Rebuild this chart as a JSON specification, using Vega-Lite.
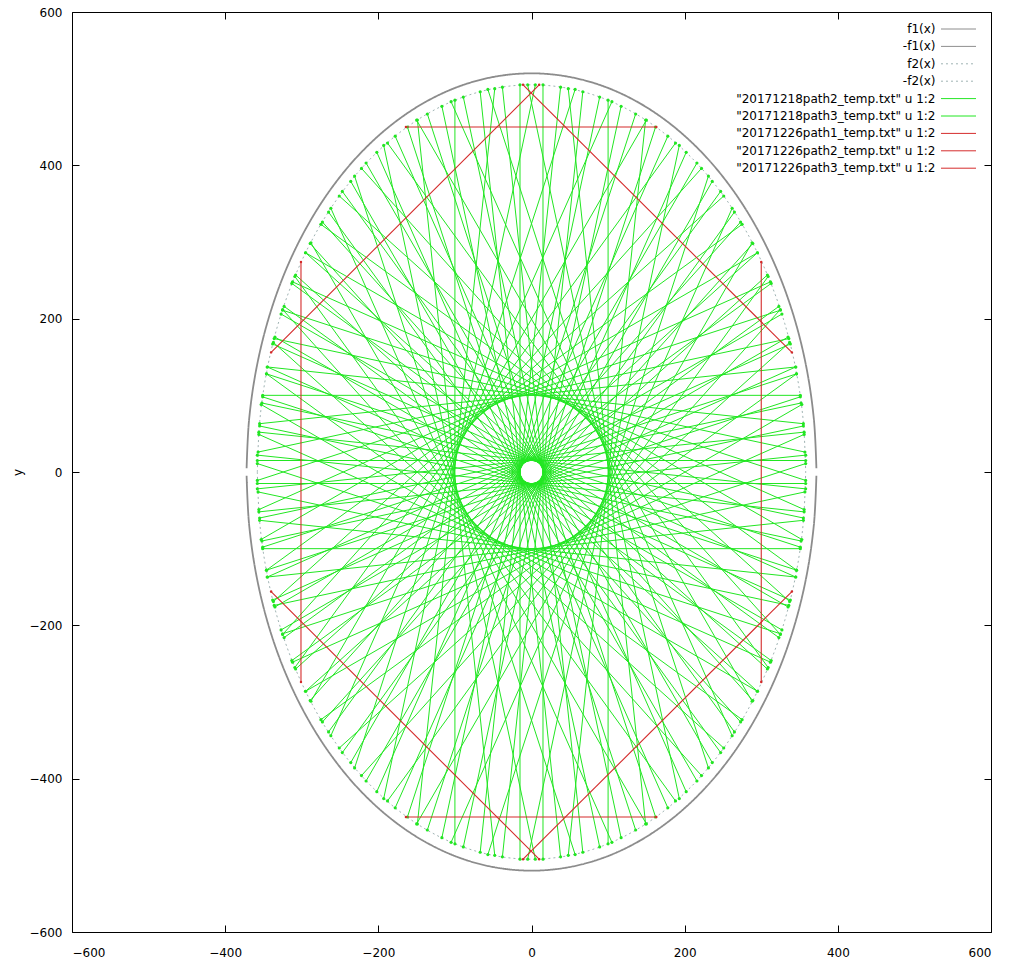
{
  "$schema": "https://vega.github.io/schema/vega-lite/v6.json",
  "width": 919,
  "height": 920,
  "autosize": {"type": "none"},
  "padding": {"left": 72, "top": 12, "right": 22, "bottom": 27},
  "background": "white",
  "config": {
    "view": {"stroke": "black", "strokeWidth": 1},
    "font": "DejaVu Sans",
    "axis": {"grid": false, "domain": false, "tickColor": "black", "tickSize": -7, "tickWidth": 1, "labelFont": "DejaVu Sans", "labelFontSize": 12, "labelColor": "black", "titleFont": "DejaVu Sans", "titleFontSize": 12, "titleFontWeight": "normal", "titleColor": "black", "labelPadding": 17},
    "legend": {"orient": "none", "legendX": 868, "legendY": 10, "symbolType": "M-2.86,0H2.86", "symbolSize": 150, "symbolStrokeWidth": 1, "symbolOffset": 11.5, "labelAlign": "right", "labelOffset": -30, "labelFont": "DejaVu Sans", "labelFontSize": 12, "labelColor": "black", "labelLimit": 0, "rowPadding": 4.4}
  },
  "datasets": {
    "names": [
      {"s": "f1", "label": "f1(x)"},
      {"s": "nf1", "label": "-f1(x)"},
      {"s": "f2", "label": "f2(x)"},
      {"s": "nf2", "label": "-f2(x)"},
      {"s": "p2", "label": "\"20171218path2_temp.txt\" u 1:2"},
      {"s": "p3", "label": "\"20171218path3_temp.txt\" u 1:2"},
      {"s": "r1", "label": "\"20171226path1_temp.txt\" u 1:2"},
      {"s": "r2", "label": "\"20171226path2_temp.txt\" u 1:2"},
      {"s": "r3", "label": "\"20171226path3_temp.txt\" u 1:2"}
    ],
    "pts": [
      {"s":"f1","g":201,"o":0,"x":-372,"y":5},{"s":"f1","g":201,"o":1,"x":-368.8,"y":67.9},{"s":"f1","g":201,"o":2,"x":-359.3,"y":134.6},{"s":"f1","g":201,"o":3,"x":-343.7,"y":199},{"s":"f1","g":201,"o":4,"x":-322.2,"y":260},{"s":"f1","g":201,"o":5,"x":-295.1,"y":316.6},{"s":"f1","g":201,"o":6,"x":-263,"y":367.7},{"s":"f1","g":201,"o":7,"x":-226.5,"y":412.5},{"s":"f1","g":201,"o":8,"x":-186,"y":450.3},{"s":"f1","g":201,"o":9,"x":-142.4,"y":480.4},{"s":"f1","g":201,"o":10,"x":-96.3,"y":502.3},{"s":"f1","g":201,"o":11,"x":-48.6,"y":515.5},{"s":"f1","g":201,"o":12,"x":0,"y":520},{"s":"f1","g":201,"o":13,"x":48.6,"y":515.5},{"s":"f1","g":201,"o":14,"x":96.3,"y":502.3},{"s":"f1","g":201,"o":15,"x":142.4,"y":480.4},{"s":"f1","g":201,"o":16,"x":186,"y":450.3},{"s":"f1","g":201,"o":17,"x":226.5,"y":412.5},{"s":"f1","g":201,"o":18,"x":263,"y":367.7},{"s":"f1","g":201,"o":19,"x":295.1,"y":316.6},{"s":"f1","g":201,"o":20,"x":322.2,"y":260},{"s":"f1","g":201,"o":21,"x":343.7,"y":199},{"s":"f1","g":201,"o":22,"x":359.3,"y":134.6},{"s":"f1","g":201,"o":23,"x":368.8,"y":67.9},{"s":"f1","g":201,"o":24,"x":372,"y":5},
      {"s":"nf1","g":202,"o":0,"x":-372,"y":-5},{"s":"nf1","g":202,"o":1,"x":-368.8,"y":-67.9},{"s":"nf1","g":202,"o":2,"x":-359.3,"y":-134.6},{"s":"nf1","g":202,"o":3,"x":-343.7,"y":-199},{"s":"nf1","g":202,"o":4,"x":-322.2,"y":-260},{"s":"nf1","g":202,"o":5,"x":-295.1,"y":-316.6},{"s":"nf1","g":202,"o":6,"x":-263,"y":-367.7},{"s":"nf1","g":202,"o":7,"x":-226.5,"y":-412.5},{"s":"nf1","g":202,"o":8,"x":-186,"y":-450.3},{"s":"nf1","g":202,"o":9,"x":-142.4,"y":-480.4},{"s":"nf1","g":202,"o":10,"x":-96.3,"y":-502.3},{"s":"nf1","g":202,"o":11,"x":-48.6,"y":-515.5},{"s":"nf1","g":202,"o":12,"x":0,"y":-520},{"s":"nf1","g":202,"o":13,"x":48.6,"y":-515.5},{"s":"nf1","g":202,"o":14,"x":96.3,"y":-502.3},{"s":"nf1","g":202,"o":15,"x":142.4,"y":-480.4},{"s":"nf1","g":202,"o":16,"x":186,"y":-450.3},{"s":"nf1","g":202,"o":17,"x":226.5,"y":-412.5},{"s":"nf1","g":202,"o":18,"x":263,"y":-367.7},{"s":"nf1","g":202,"o":19,"x":295.1,"y":-316.6},{"s":"nf1","g":202,"o":20,"x":322.2,"y":-260},{"s":"nf1","g":202,"o":21,"x":343.7,"y":-199},{"s":"nf1","g":202,"o":22,"x":359.3,"y":-134.6},{"s":"nf1","g":202,"o":23,"x":368.8,"y":-67.9},{"s":"nf1","g":202,"o":24,"x":372,"y":-5},
      {"s":"f2","g":203,"o":0,"x":-358,"y":0},{"s":"f2","g":203,"o":1,"x":-354.9,"y":65.9},{"s":"f2","g":203,"o":2,"x":-345.8,"y":130.7},{"s":"f2","g":203,"o":3,"x":-330.8,"y":193.3},{"s":"f2","g":203,"o":4,"x":-310,"y":252.5},{"s":"f2","g":203,"o":5,"x":-284,"y":307.4},{"s":"f2","g":203,"o":6,"x":-253.1,"y":357.1},{"s":"f2","g":203,"o":7,"x":-217.9,"y":400.6},{"s":"f2","g":203,"o":8,"x":-179,"y":437.3},{"s":"f2","g":203,"o":9,"x":-137,"y":466.6},{"s":"f2","g":203,"o":10,"x":-92.7,"y":487.8},{"s":"f2","g":203,"o":11,"x":-46.7,"y":500.7},{"s":"f2","g":203,"o":12,"x":0,"y":505},{"s":"f2","g":203,"o":13,"x":46.7,"y":500.7},{"s":"f2","g":203,"o":14,"x":92.7,"y":487.8},{"s":"f2","g":203,"o":15,"x":137,"y":466.6},{"s":"f2","g":203,"o":16,"x":179,"y":437.3},{"s":"f2","g":203,"o":17,"x":217.9,"y":400.6},{"s":"f2","g":203,"o":18,"x":253.1,"y":357.1},{"s":"f2","g":203,"o":19,"x":284,"y":307.4},{"s":"f2","g":203,"o":20,"x":310,"y":252.5},{"s":"f2","g":203,"o":21,"x":330.8,"y":193.3},{"s":"f2","g":203,"o":22,"x":345.8,"y":130.7},{"s":"f2","g":203,"o":23,"x":354.9,"y":65.9},{"s":"f2","g":203,"o":24,"x":358,"y":0},
      {"s":"nf2","g":204,"o":0,"x":-358,"y":0},{"s":"nf2","g":204,"o":1,"x":-354.9,"y":-65.9},{"s":"nf2","g":204,"o":2,"x":-345.8,"y":-130.7},{"s":"nf2","g":204,"o":3,"x":-330.8,"y":-193.3},{"s":"nf2","g":204,"o":4,"x":-310,"y":-252.5},{"s":"nf2","g":204,"o":5,"x":-284,"y":-307.4},{"s":"nf2","g":204,"o":6,"x":-253.1,"y":-357.1},{"s":"nf2","g":204,"o":7,"x":-217.9,"y":-400.6},{"s":"nf2","g":204,"o":8,"x":-179,"y":-437.3},{"s":"nf2","g":204,"o":9,"x":-137,"y":-466.6},{"s":"nf2","g":204,"o":10,"x":-92.7,"y":-487.8},{"s":"nf2","g":204,"o":11,"x":-46.7,"y":-500.7},{"s":"nf2","g":204,"o":12,"x":0,"y":-505},{"s":"nf2","g":204,"o":13,"x":46.7,"y":-500.7},{"s":"nf2","g":204,"o":14,"x":92.7,"y":-487.8},{"s":"nf2","g":204,"o":15,"x":137,"y":-466.6},{"s":"nf2","g":204,"o":16,"x":179,"y":-437.3},{"s":"nf2","g":204,"o":17,"x":217.9,"y":-400.6},{"s":"nf2","g":204,"o":18,"x":253.1,"y":-357.1},{"s":"nf2","g":204,"o":19,"x":284,"y":-307.4},{"s":"nf2","g":204,"o":20,"x":310,"y":-252.5},{"s":"nf2","g":204,"o":21,"x":330.8,"y":-193.3},{"s":"nf2","g":204,"o":22,"x":345.8,"y":-130.7},{"s":"nf2","g":204,"o":23,"x":354.9,"y":-65.9},{"s":"nf2","g":204,"o":24,"x":358,"y":0},

      {"s":"p2","g":1,"o":0,"x":100,"y":485},{"s":"p2","g":1,"o":1,"x":100,"y":-485},
      {"s":"p2","g":2,"o":0,"x":-100,"y":485},{"s":"p2","g":2,"o":1,"x":-100,"y":-485},
      {"s":"p2","g":3,"o":0,"x":351,"y":100},{"s":"p2","g":3,"o":1,"x":-351,"y":100},
      {"s":"p2","g":4,"o":0,"x":351,"y":-100},{"s":"p2","g":4,"o":1,"x":-351,"y":-100},
      {"s":"p2","g":5,"o":0,"x":48,"y":500},{"s":"p2","g":5,"o":1,"x":149,"y":-459},
      {"s":"p2","g":6,"o":0,"x":48,"y":-500},{"s":"p2","g":6,"o":1,"x":149,"y":459},
      {"s":"p2","g":7,"o":0,"x":-48,"y":500},{"s":"p2","g":7,"o":1,"x":-149,"y":-459},
      {"s":"p2","g":8,"o":0,"x":-48,"y":-500},{"s":"p2","g":8,"o":1,"x":-149,"y":459},
      {"s":"p2","g":9,"o":0,"x":-5,"y":505},{"s":"p2","g":9,"o":1,"x":193,"y":-426},
      {"s":"p2","g":10,"o":0,"x":-5,"y":-505},{"s":"p2","g":10,"o":1,"x":193,"y":426},
      {"s":"p2","g":11,"o":0,"x":5,"y":505},{"s":"p2","g":11,"o":1,"x":-193,"y":-426},
      {"s":"p2","g":12,"o":0,"x":5,"y":-505},{"s":"p2","g":12,"o":1,"x":-193,"y":426},
      {"s":"p2","g":13,"o":0,"x":-57,"y":499},{"s":"p2","g":13,"o":1,"x":231,"y":-386},
      {"s":"p2","g":14,"o":0,"x":-57,"y":-499},{"s":"p2","g":14,"o":1,"x":231,"y":386},
      {"s":"p2","g":15,"o":0,"x":57,"y":499},{"s":"p2","g":15,"o":1,"x":-231,"y":-386},
      {"s":"p2","g":16,"o":0,"x":57,"y":-499},{"s":"p2","g":16,"o":1,"x":-231,"y":386},
      {"s":"p2","g":17,"o":0,"x":-105,"y":483},{"s":"p2","g":17,"o":1,"x":262,"y":-344},
      {"s":"p2","g":18,"o":0,"x":-105,"y":-483},{"s":"p2","g":18,"o":1,"x":262,"y":344},
      {"s":"p2","g":19,"o":0,"x":105,"y":483},{"s":"p2","g":19,"o":1,"x":-262,"y":-344},
      {"s":"p2","g":20,"o":0,"x":105,"y":-483},{"s":"p2","g":20,"o":1,"x":-262,"y":344},
      {"s":"p2","g":21,"o":0,"x":-150,"y":459},{"s":"p2","g":21,"o":1,"x":288,"y":-299},
      {"s":"p2","g":22,"o":0,"x":-150,"y":-459},{"s":"p2","g":22,"o":1,"x":288,"y":299},
      {"s":"p2","g":23,"o":0,"x":150,"y":459},{"s":"p2","g":23,"o":1,"x":-288,"y":-299},
      {"s":"p2","g":24,"o":0,"x":150,"y":-459},{"s":"p2","g":24,"o":1,"x":-288,"y":299},
      {"s":"p2","g":25,"o":0,"x":-188,"y":429},{"s":"p2","g":25,"o":1,"x":309,"y":-255},
      {"s":"p2","g":26,"o":0,"x":-188,"y":-429},{"s":"p2","g":26,"o":1,"x":309,"y":255},
      {"s":"p2","g":27,"o":0,"x":188,"y":429},{"s":"p2","g":27,"o":1,"x":-309,"y":-255},
      {"s":"p2","g":28,"o":0,"x":188,"y":-429},{"s":"p2","g":28,"o":1,"x":-309,"y":255},
      {"s":"p2","g":29,"o":0,"x":-222,"y":396},{"s":"p2","g":29,"o":1,"x":325,"y":-212},
      {"s":"p2","g":30,"o":0,"x":-222,"y":-396},{"s":"p2","g":30,"o":1,"x":325,"y":212},
      {"s":"p2","g":31,"o":0,"x":222,"y":396},{"s":"p2","g":31,"o":1,"x":-325,"y":-212},
      {"s":"p2","g":32,"o":0,"x":222,"y":-396},{"s":"p2","g":32,"o":1,"x":-325,"y":212},
      {"s":"p2","g":33,"o":0,"x":-251,"y":360},{"s":"p2","g":33,"o":1,"x":337,"y":-169},
      {"s":"p2","g":34,"o":0,"x":-251,"y":-360},{"s":"p2","g":34,"o":1,"x":337,"y":169},
      {"s":"p2","g":35,"o":0,"x":251,"y":360},{"s":"p2","g":35,"o":1,"x":-337,"y":-169},
      {"s":"p2","g":36,"o":0,"x":251,"y":-360},{"s":"p2","g":36,"o":1,"x":-337,"y":169},
      {"s":"p2","g":37,"o":0,"x":-275,"y":323},{"s":"p2","g":37,"o":1,"x":346,"y":-128},
      {"s":"p2","g":38,"o":0,"x":-275,"y":-323},{"s":"p2","g":38,"o":1,"x":346,"y":128},
      {"s":"p2","g":39,"o":0,"x":275,"y":323},{"s":"p2","g":39,"o":1,"x":-346,"y":-128},
      {"s":"p2","g":40,"o":0,"x":275,"y":-323},{"s":"p2","g":40,"o":1,"x":-346,"y":128},
      {"s":"p2","g":41,"o":0,"x":-295,"y":286},{"s":"p2","g":41,"o":1,"x":353,"y":-88},
      {"s":"p2","g":42,"o":0,"x":-295,"y":-286},{"s":"p2","g":42,"o":1,"x":353,"y":88},
      {"s":"p2","g":43,"o":0,"x":295,"y":286},{"s":"p2","g":43,"o":1,"x":-353,"y":-88},
      {"s":"p2","g":44,"o":0,"x":295,"y":-286},{"s":"p2","g":44,"o":1,"x":-353,"y":88},
      {"s":"p2","g":45,"o":0,"x":-312,"y":248},{"s":"p2","g":45,"o":1,"x":356,"y":-49},
      {"s":"p2","g":46,"o":0,"x":-312,"y":-248},{"s":"p2","g":46,"o":1,"x":356,"y":49},
      {"s":"p2","g":47,"o":0,"x":312,"y":248},{"s":"p2","g":47,"o":1,"x":-356,"y":-49},
      {"s":"p2","g":48,"o":0,"x":312,"y":-248},{"s":"p2","g":48,"o":1,"x":-356,"y":49},
      {"s":"p2","g":49,"o":0,"x":-325,"y":211},{"s":"p2","g":49,"o":1,"x":358,"y":-11},
      {"s":"p2","g":50,"o":0,"x":-325,"y":-211},{"s":"p2","g":50,"o":1,"x":358,"y":11},
      {"s":"p2","g":51,"o":0,"x":325,"y":211},{"s":"p2","g":51,"o":1,"x":-358,"y":-11},
      {"s":"p2","g":52,"o":0,"x":325,"y":-211},{"s":"p2","g":52,"o":1,"x":-358,"y":11},
      {"s":"p2","g":53,"o":0,"x":-336,"y":174},{"s":"p2","g":53,"o":1,"x":357,"y":26},
      {"s":"p2","g":54,"o":0,"x":-336,"y":-174},{"s":"p2","g":54,"o":1,"x":357,"y":-26},
      {"s":"p2","g":55,"o":0,"x":336,"y":174},{"s":"p2","g":55,"o":1,"x":-357,"y":26},
      {"s":"p2","g":56,"o":0,"x":336,"y":-174},{"s":"p2","g":56,"o":1,"x":-357,"y":-26},
      {"s":"p2","g":57,"o":0,"x":-345,"y":137},{"s":"p2","g":57,"o":1,"x":355,"y":63},
      {"s":"p2","g":58,"o":0,"x":-345,"y":-137},{"s":"p2","g":58,"o":1,"x":355,"y":-63},
      {"s":"p2","g":59,"o":0,"x":345,"y":137},{"s":"p2","g":59,"o":1,"x":-355,"y":63},
      {"s":"p2","g":60,"o":0,"x":345,"y":-137},{"s":"p2","g":60,"o":1,"x":-355,"y":-63},

      {"s":"p3","g":61,"o":0,"x":15,"y":505},{"s":"p3","g":61,"o":1,"x":15,"y":-505},
      {"s":"p3","g":62,"o":0,"x":-15,"y":505},{"s":"p3","g":62,"o":1,"x":-15,"y":-505},
      {"s":"p3","g":63,"o":0,"x":358,"y":15},{"s":"p3","g":63,"o":1,"x":-358,"y":15},
      {"s":"p3","g":64,"o":0,"x":358,"y":-15},{"s":"p3","g":64,"o":1,"x":-358,"y":-15},
      {"s":"p3","g":65,"o":0,"x":-38,"y":502},{"s":"p3","g":65,"o":1,"x":67,"y":-496},
      {"s":"p3","g":66,"o":0,"x":-38,"y":-502},{"s":"p3","g":66,"o":1,"x":67,"y":496},
      {"s":"p3","g":67,"o":0,"x":38,"y":502},{"s":"p3","g":67,"o":1,"x":-67,"y":-496},
      {"s":"p3","g":68,"o":0,"x":38,"y":-502},{"s":"p3","g":68,"o":1,"x":-67,"y":496},
      {"s":"p3","g":69,"o":0,"x":-89,"y":489},{"s":"p3","g":69,"o":1,"x":117,"y":-477},
      {"s":"p3","g":70,"o":0,"x":-89,"y":-489},{"s":"p3","g":70,"o":1,"x":117,"y":477},
      {"s":"p3","g":71,"o":0,"x":89,"y":489},{"s":"p3","g":71,"o":1,"x":-117,"y":-477},
      {"s":"p3","g":72,"o":0,"x":89,"y":-489},{"s":"p3","g":72,"o":1,"x":-117,"y":477},
      {"s":"p3","g":73,"o":0,"x":-136,"y":467},{"s":"p3","g":73,"o":1,"x":162,"y":-450},
      {"s":"p3","g":74,"o":0,"x":-136,"y":-467},{"s":"p3","g":74,"o":1,"x":162,"y":450},
      {"s":"p3","g":75,"o":0,"x":136,"y":467},{"s":"p3","g":75,"o":1,"x":-162,"y":-450},
      {"s":"p3","g":76,"o":0,"x":136,"y":-467},{"s":"p3","g":76,"o":1,"x":-162,"y":450},
      {"s":"p3","g":77,"o":0,"x":-178,"y":438},{"s":"p3","g":77,"o":1,"x":202,"y":-417},
      {"s":"p3","g":78,"o":0,"x":-178,"y":-438},{"s":"p3","g":78,"o":1,"x":202,"y":417},
      {"s":"p3","g":79,"o":0,"x":178,"y":438},{"s":"p3","g":79,"o":1,"x":-202,"y":-417},
      {"s":"p3","g":80,"o":0,"x":178,"y":-438},{"s":"p3","g":80,"o":1,"x":-202,"y":417},
      {"s":"p3","g":81,"o":0,"x":-216,"y":403},{"s":"p3","g":81,"o":1,"x":236,"y":-379},
      {"s":"p3","g":82,"o":0,"x":-216,"y":-403},{"s":"p3","g":82,"o":1,"x":236,"y":379},
      {"s":"p3","g":83,"o":0,"x":216,"y":403},{"s":"p3","g":83,"o":1,"x":-236,"y":-379},
      {"s":"p3","g":84,"o":0,"x":216,"y":-403},{"s":"p3","g":84,"o":1,"x":-236,"y":379},
      {"s":"p3","g":85,"o":0,"x":-247,"y":366},{"s":"p3","g":85,"o":1,"x":265,"y":-339},
      {"s":"p3","g":86,"o":0,"x":-247,"y":-366},{"s":"p3","g":86,"o":1,"x":265,"y":339},
      {"s":"p3","g":87,"o":0,"x":247,"y":366},{"s":"p3","g":87,"o":1,"x":-265,"y":-339},
      {"s":"p3","g":88,"o":0,"x":247,"y":-366},{"s":"p3","g":88,"o":1,"x":-265,"y":339},
      {"s":"p3","g":89,"o":0,"x":-273,"y":326},{"s":"p3","g":89,"o":1,"x":289,"y":-298},
      {"s":"p3","g":90,"o":0,"x":-273,"y":-326},{"s":"p3","g":90,"o":1,"x":289,"y":298},
      {"s":"p3","g":91,"o":0,"x":273,"y":326},{"s":"p3","g":91,"o":1,"x":-289,"y":-298},
      {"s":"p3","g":92,"o":0,"x":273,"y":-326},{"s":"p3","g":92,"o":1,"x":-289,"y":298},
      {"s":"p3","g":93,"o":0,"x":-295,"y":286},{"s":"p3","g":93,"o":1,"x":308,"y":-257},
      {"s":"p3","g":94,"o":0,"x":-295,"y":-286},{"s":"p3","g":94,"o":1,"x":308,"y":257},
      {"s":"p3","g":95,"o":0,"x":295,"y":286},{"s":"p3","g":95,"o":1,"x":-308,"y":-257},
      {"s":"p3","g":96,"o":0,"x":295,"y":-286},{"s":"p3","g":96,"o":1,"x":-308,"y":257},
      {"s":"p3","g":97,"o":0,"x":-313,"y":246},{"s":"p3","g":97,"o":1,"x":323,"y":-216},
      {"s":"p3","g":98,"o":0,"x":-313,"y":-246},{"s":"p3","g":98,"o":1,"x":323,"y":216},
      {"s":"p3","g":99,"o":0,"x":313,"y":246},{"s":"p3","g":99,"o":1,"x":-323,"y":-216},
      {"s":"p3","g":100,"o":0,"x":313,"y":-246},{"s":"p3","g":100,"o":1,"x":-323,"y":216},
      {"s":"p3","g":101,"o":0,"x":-327,"y":206},{"s":"p3","g":101,"o":1,"x":335,"y":-176},
      {"s":"p3","g":102,"o":0,"x":-327,"y":-206},{"s":"p3","g":102,"o":1,"x":335,"y":176},
      {"s":"p3","g":103,"o":0,"x":327,"y":206},{"s":"p3","g":103,"o":1,"x":-335,"y":-176},
      {"s":"p3","g":104,"o":0,"x":327,"y":-206},{"s":"p3","g":104,"o":1,"x":-335,"y":176},
      {"s":"p3","g":105,"o":0,"x":-338,"y":167},{"s":"p3","g":105,"o":1,"x":345,"y":-137},
      {"s":"p3","g":106,"o":0,"x":-338,"y":-167},{"s":"p3","g":106,"o":1,"x":345,"y":137},
      {"s":"p3","g":107,"o":0,"x":338,"y":167},{"s":"p3","g":107,"o":1,"x":-345,"y":-137},
      {"s":"p3","g":108,"o":0,"x":338,"y":-167},{"s":"p3","g":108,"o":1,"x":-345,"y":137},
      {"s":"p3","g":109,"o":0,"x":-346,"y":128},{"s":"p3","g":109,"o":1,"x":351,"y":-98},
      {"s":"p3","g":110,"o":0,"x":-346,"y":-128},{"s":"p3","g":110,"o":1,"x":351,"y":98},
      {"s":"p3","g":111,"o":0,"x":346,"y":128},{"s":"p3","g":111,"o":1,"x":-351,"y":-98},
      {"s":"p3","g":112,"o":0,"x":346,"y":-128},{"s":"p3","g":112,"o":1,"x":-351,"y":98},
      {"s":"p3","g":113,"o":0,"x":-352,"y":90},{"s":"p3","g":113,"o":1,"x":355,"y":-60},
      {"s":"p3","g":114,"o":0,"x":-352,"y":-90},{"s":"p3","g":114,"o":1,"x":355,"y":60},
      {"s":"p3","g":115,"o":0,"x":352,"y":90},{"s":"p3","g":115,"o":1,"x":-355,"y":-60},
      {"s":"p3","g":116,"o":0,"x":352,"y":-90},{"s":"p3","g":116,"o":1,"x":-355,"y":60},
      {"s":"p3","g":117,"o":0,"x":-356,"y":52},{"s":"p3","g":117,"o":1,"x":358,"y":-22},
      {"s":"p3","g":118,"o":0,"x":-356,"y":-52},{"s":"p3","g":118,"o":1,"x":358,"y":22},
      {"s":"p3","g":119,"o":0,"x":356,"y":52},{"s":"p3","g":119,"o":1,"x":-358,"y":-22},
      {"s":"p3","g":120,"o":0,"x":356,"y":-52},{"s":"p3","g":120,"o":1,"x":-358,"y":22},

      {"s":"r1","g":121,"o":0,"x":-164,"y":450},{"s":"r1","g":121,"o":1,"x":163,"y":450},
      {"s":"r1","g":122,"o":0,"x":-164,"y":-450},{"s":"r1","g":122,"o":1,"x":163,"y":-450},
      {"s":"r2","g":123,"o":0,"x":-301,"y":274},{"s":"r2","g":123,"o":1,"x":-301,"y":-274},
      {"s":"r2","g":124,"o":0,"x":300,"y":274},{"s":"r2","g":124,"o":1,"x":300,"y":-274},
      {"s":"r3","g":125,"o":0,"x":-340,"y":156},{"s":"r3","g":125,"o":1,"x":10,"y":505},
      {"s":"r3","g":126,"o":0,"x":340,"y":156},{"s":"r3","g":126,"o":1,"x":-11,"y":505},
      {"s":"r3","g":127,"o":0,"x":-340,"y":-156},{"s":"r3","g":127,"o":1,"x":10,"y":-505},
      {"s":"r3","g":128,"o":0,"x":340,"y":-156},{"s":"r3","g":128,"o":1,"x":-11,"y":-505}
    ]
  },
  "data": {"name": "pts"},
  "transform": [
    {"lookup": "s", "from": {"data": {"name": "names"}, "key": "s", "fields": ["label"]}}
  ],
  "layer": [
    {
      "transform": [{"filter": {"field": "s", "oneOf": ["f1", "nf1"]}}],
      "mark": {"type": "line", "interpolate": "catmull-rom", "strokeWidth": 1.8},
      "encoding": {
        "x": {"field": "x", "type": "quantitative", "scale": {"domain": [-600, 600], "nice": false, "zero": false}, "axis": {"orient": "bottom", "values": [-600, -400, -200, 0, 200, 400, 600], "title": null, "labelPadding": 22}},
        "y": {"field": "y", "type": "quantitative", "scale": {"domain": [-600, 600], "nice": false, "zero": false}, "axis": {"orient": "left", "values": [-600, -400, -200, 0, 200, 400, 600], "title": "y", "titlePadding": 5}},
        "color": {"field": "label", "type": "nominal", "title": null,
          "scale": {"domain": ["f1(x)", "-f1(x)", "f2(x)", "-f2(x)", "\"20171218path2_temp.txt\" u 1:2", "\"20171218path3_temp.txt\" u 1:2", "\"20171226path1_temp.txt\" u 1:2", "\"20171226path2_temp.txt\" u 1:2", "\"20171226path3_temp.txt\" u 1:2"],
                    "range": ["#8c8c8c", "#8c8c8c", "#9fb3b3", "#9fb3b3", "#22e622", "#22e622", "#d42a2a", "#d42a2a", "#d42a2a"]},
          "legend": {"title": null, "encode": {"symbols": {"update": {"stroke": {"scale": "color", "field": "value"}, "strokeDash": {"scale": "strokeDash", "field": "value"}, "fill": {"value": "transparent"}, "strokeWidth": {"value": 1}, "shape": {"value": "M-2.86,0H2.86"}, "opacity": {"value": 1}}}}}},
        "strokeDash": {"field": "label", "type": "nominal", "title": null,
          "scale": {"domain": ["f1(x)", "-f1(x)", "f2(x)", "-f2(x)", "\"20171218path2_temp.txt\" u 1:2", "\"20171218path3_temp.txt\" u 1:2", "\"20171226path1_temp.txt\" u 1:2", "\"20171226path2_temp.txt\" u 1:2", "\"20171226path3_temp.txt\" u 1:2"],
                    "range": [[1, 0], [1, 0], [2, 3], [2, 3], [1, 0], [1, 0], [1, 0], [1, 0], [1, 0]]}},
        "detail": {"field": "g"},
        "order": {"field": "o"}
      }
    },
    {
      "transform": [{"filter": {"field": "s", "oneOf": ["f2", "nf2"]}}],
      "mark": {"type": "line", "interpolate": "catmull-rom", "strokeWidth": 1},
      "encoding": {
        "x": {"field": "x", "type": "quantitative", "axis": null},
        "y": {"field": "y", "type": "quantitative", "axis": null},
        "color": {"field": "label", "type": "nominal", "title": null},
        "strokeDash": {"field": "label", "type": "nominal", "title": null},
        "detail": {"field": "g"},
        "order": {"field": "o"}
      }
    },
    {
      "transform": [{"filter": {"field": "s", "oneOf": ["p2", "p3"]}}],
      "mark": {"type": "line", "strokeWidth": 1, "point": {"filled": true, "size": 10}},
      "encoding": {
        "x": {"field": "x", "type": "quantitative", "axis": null},
        "y": {"field": "y", "type": "quantitative", "axis": null},
        "color": {"field": "label", "type": "nominal", "title": null},
        "detail": {"field": "g"},
        "order": {"field": "o"}
      }
    },
    {
      "transform": [{"filter": {"field": "s", "oneOf": ["r1", "r2", "r3"]}}],
      "mark": {"type": "line", "strokeWidth": 1.1, "point": {"filled": true, "size": 6}},
      "encoding": {
        "x": {"field": "x", "type": "quantitative", "axis": {"orient": "top", "values": [-600, -400, -200, 0, 200, 400, 600], "labels": false, "title": null}},
        "y": {"field": "y", "type": "quantitative", "axis": {"orient": "right", "values": [-600, -400, -200, 0, 200, 400, 600], "labels": false, "title": null}},
        "color": {"field": "label", "type": "nominal", "title": null},
        "detail": {"field": "g"},
        "order": {"field": "o"}
      }
    }
  ],
  "resolve": {"axis": {"x": "independent", "y": "independent"}}
}
